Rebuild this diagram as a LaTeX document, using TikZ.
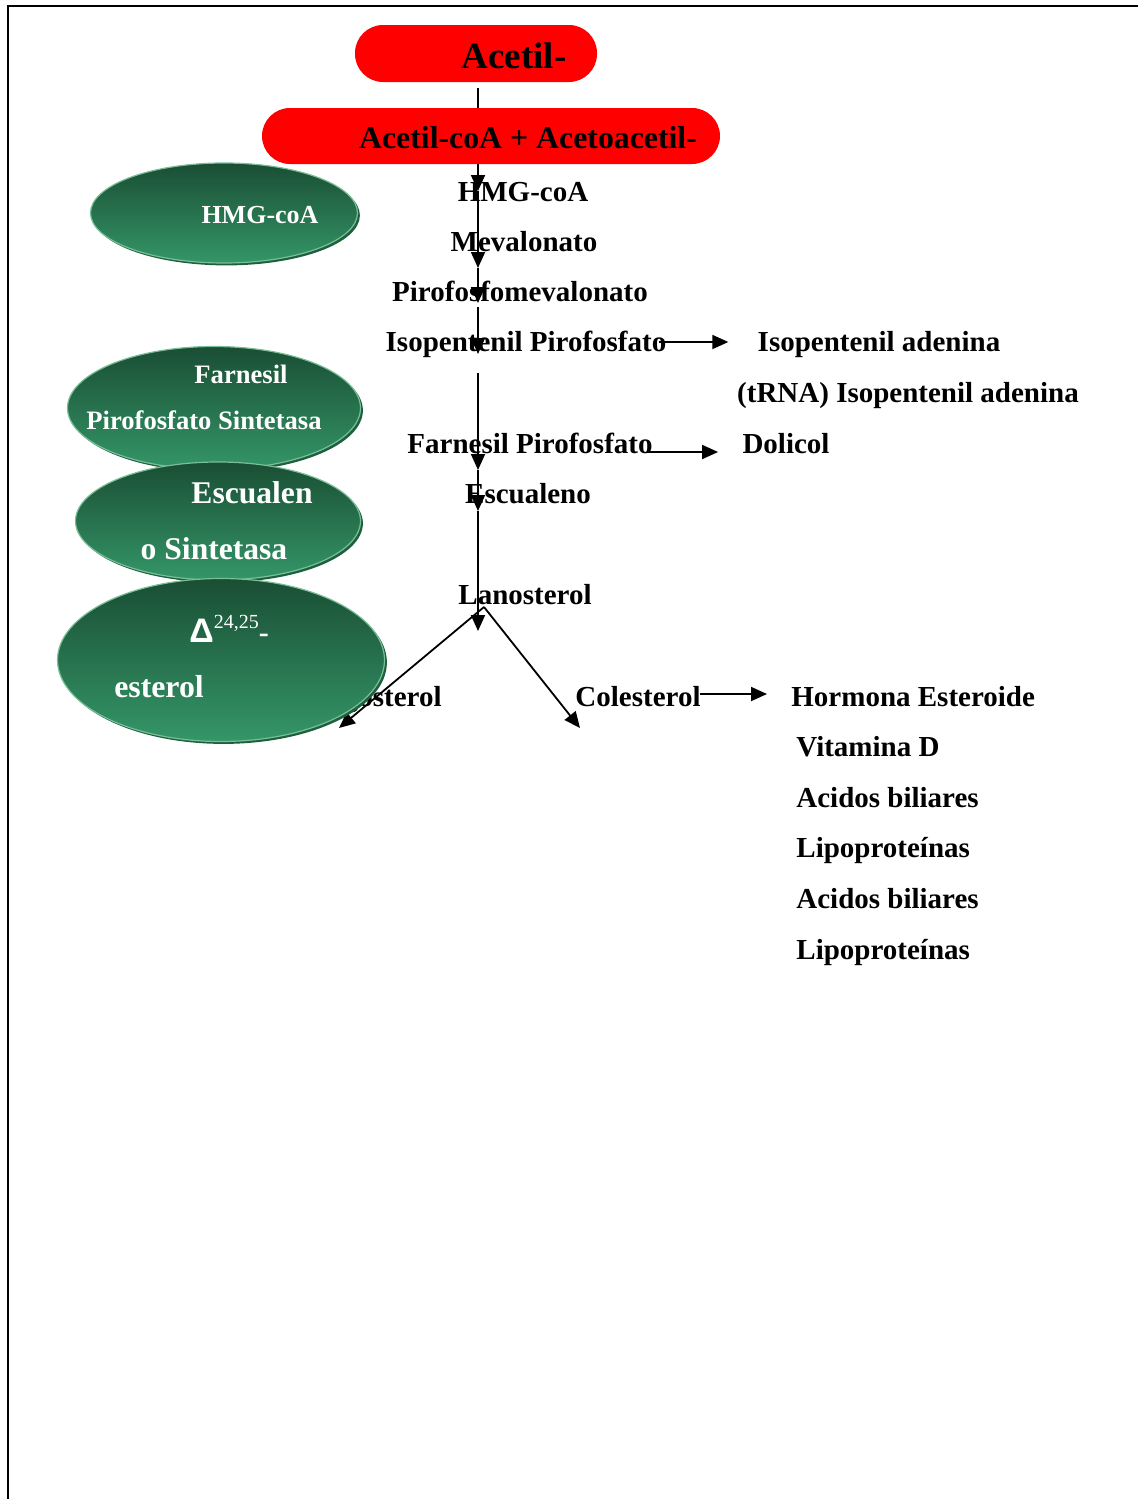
\documentclass[tikz,border=0pt]{standalone}
\usepackage{fontspec}
\setmainfont{Liberation Serif}
\newfontfamily\deltafont{Liberation Sans}
\usetikzlibrary{arrows.meta,positioning,calc,shapes.geometric,shadows}
\definecolor{myRed}{RGB}{255,0,0}
\definecolor{myGreenTop}{RGB}{26,78,52}
\definecolor{myGreenBot}{RGB}{52,150,104}
\definecolor{myGreenRim}{RGB}{30,96,62}
\definecolor{myGreenLight}{RGB}{120,190,150}
\tikzset{
	cpd/.style={
		font=\fontsize{14.5}{17}\selectfont\bfseries,
		inner sep=0pt,
		anchor=base
	},
	enz/.style={
		ellipse,
		draw=myGreenLight,
		line width=0.6pt,
		top color=myGreenTop,
		bottom color=myGreenBot,
		inner sep=0pt,
		general shadow={fill=myGreenRim, shadow xshift=1.2pt, shadow yshift=-1.2pt}
	},
	enztxt/.style={text=white, inner sep=0pt, anchor=base},
	rbox/.style={fill=myRed, rounded corners=14pt, inner sep=0pt},
	parr/.style={-{Triangle[length=8pt,width=7pt]}, line width=0.9pt}
}

\begin{document}
\begin{tikzpicture}[x=0.5pt, y=-0.5pt]
		\useasboundingbox (0,0) rectangle (1138,1499);
		\draw[line width=1pt] (8,1499) -- (8,6) -- (1138,6);
		% compounds of the pathway
		\node[cpd] (hmg) at (523,201) {HMG-coA};
		\node[cpd] (meva) at (524,251) {Mevalonato};
		\node[cpd] (ppmeva) at (520,301) {Pirofosfomevalonato};
		\node[cpd] (ipp) at (526,351) {Isopentenil Pirofosfato};
		\node[cpd] (ipade) at (879,351) {Isopentenil adenina};
		\node[cpd] (trna) at (908,402) {(tRNA) Isopentenil adenina};
		\node[cpd] (fpp) at (530,453) {Farnesil Pirofosfato};
		\node[cpd] (doli) at (786,453) {Dolicol};
		\node[cpd] (escu) at (528,503) {Escualeno};
		\node[cpd] (lano) at (525,604) {Lanosterol};
		\node[cpd, anchor=base east] (ergo) at (442,706) {Ergosterol};
		\node[cpd] (cole) at (638,706) {Colesterol};
		\node[cpd, anchor=base west] (horm) at (791,706) {Hormona Esteroide};
		\node[cpd, anchor=base west] (vitd) at (796,756) {Vitamina D};
		\node[cpd, anchor=base west] (acid1) at (796,807) {Acidos biliares};
		\node[cpd, anchor=base west] (lipo1) at (796,857) {Lipoproteínas};
		\node[cpd, anchor=base west] (acid2) at (796,908) {Acidos biliares};
		\node[cpd, anchor=base west] (lipo2) at (796,959) {Lipoproteínas};
		% main axis
		\coordinate (v0) at (478,88);
		\coordinate (v1) at (478,191);
		\coordinate (v2) at (478,268);
		\coordinate (v3) at (478,303);
		\coordinate (v3b) at (478,307);
		\coordinate (v4) at (478,354);
		\coordinate (v5) at (478,373);
		\coordinate (v6) at (478,470);
		\coordinate (v7) at (478,511);
		\coordinate (v8) at (478,631);
		\draw[parr] (v0) -- (v1);
		\draw[parr] (v1) -- (v2);
		\draw[parr] (v2) -- (v3);
		\draw[parr] (v3b) -- (v4);
		\draw[parr] (v5) -- (v6);
		\draw[parr] (v6) -- (v7);
		\draw[parr] (v7) -- (v8);
		\coordinate (fork) at (484,607);
		\coordinate (ergoEnd) at (339,728);
		\coordinate (coleEnd) at (580,728);
		\draw[parr] (fork) -- (ergoEnd);
		\draw[parr] (fork) -- (coleEnd);
		% side branches
		\draw[parr] ($(ipp.base east)+(-4pt,4.5pt)$) -- ($(ipade.base west)+(-14.5pt,4.5pt)$);
		\draw[parr] ($(fpp.base east)+(-3pt,0.5pt)$) -- ($(doli.base west)+(-12pt,0.5pt)$);
		\draw[parr] ($(cole.base east)+(-0.5pt,6pt)$) -- ($(horm.base west)+(-12pt,6pt)$);
		% red boxes
		\node[rbox, minimum width=121pt, minimum height=28.5pt] (acBox) at (476,53.5) {};
		\node[inner sep=0pt, anchor=base, font=\fontsize{18.5}{22}\selectfont\bfseries] (acTxt) at (514,68) {Acetil-};
		\node[rbox, minimum width=229pt, minimum height=28pt] (aaBox) at (491,136) {};
		\node[inner sep=0pt, anchor=base, font=\fontsize{15.9}{19}\selectfont\bfseries] (aaTxt) at (528,148) {Acetil-coA + Acetoacetil-};
		% enzymes
		\node[enz, minimum width=133.5pt, minimum height=50pt] (e1) at (224,213) {};
		\node[enztxt, font=\fontsize{13}{15}\selectfont\bfseries] (e1a) at (260,223) {HMG-coA};
		\node[enz, minimum width=146.5pt, minimum height=61.5pt] (e2) at (214,408) {};
		\node[enztxt, font=\fontsize{13.3}{15}\selectfont\bfseries] (e2a) at (241,383) {Farnesil};
		\node[enztxt, font=\fontsize{13.3}{15}\selectfont\bfseries] (e2b) at (204,429) {Pirofosfato Sintetasa};
		\node[enz, minimum width=142.5pt, minimum height=59pt] (e3) at (218,521) {};
		\node[enztxt, font=\fontsize{15.8}{18}\selectfont\bfseries] (e3a) at (252,503) {Escualen};
		\node[enztxt, font=\fontsize{15.8}{18}\selectfont\bfseries] (e3b) at (214,559) {o Sintetasa};
		\node[enz, minimum width=163.5pt, minimum height=81.5pt] (e4) at (221,660) {};
		\node[enztxt, anchor=base west, font=\bfseries] (e4a) at (189,642) {{\deltafont\fontsize{17}{20}\selectfont Δ}\raisebox{7pt}{\fontsize{10}{12}\selectfont\mdseries 24,25}{\fontsize{15}{18}\selectfont -}};
		\node[enztxt, font=\fontsize{15.9}{18}\selectfont\bfseries] (e4b) at (159,697) {esterol};
	\end{tikzpicture}
\end{document}
